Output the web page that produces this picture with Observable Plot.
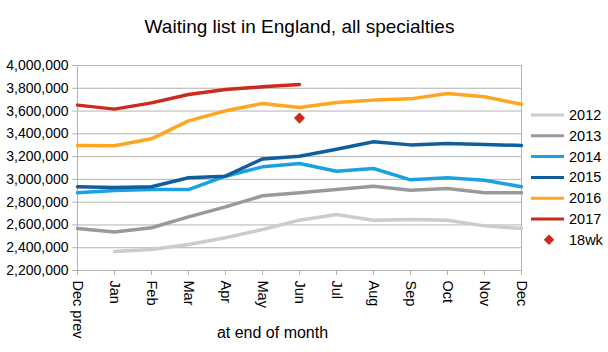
<!DOCTYPE html>
<html><head><meta charset="utf-8">
<script src="https://cdn.jsdelivr.net/npm/d3@7"></script>
<script src="https://cdn.jsdelivr.net/npm/@observablehq/plot@0.6"></script>
<style>body{margin:0;background:#fff} svg{display:block}</style>
</head><body><div id="chart"></div><script>
const title = "Waiting list in England, all specialties";
const xLabel = "at end of month";
const months = ["Dec prev","Jan","Feb","Mar","Apr","May","Jun","Jul","Aug","Sep","Oct","Nov","Dec"];
const yTicks = [2200000,2400000,2600000,2800000,3000000,3200000,3400000,3600000,3800000,4000000];
const seriesNames = ["2012","2013","2014","2015","2016","2017"];
const seriesColors = ["#cccccc","#999999","#1ba1e2","#0f5f9e","#ffa51f","#cc2a1c"];
const y2012 = [null,2367000,2384000,2428000,2487000,2560000,2642000,2692000,2642000,2648000,2642000,2592000,2569000];
const y2013 = [2569000,2539000,2575000,2671000,2759000,2856000,2882000,2911000,2940000,2905000,2920000,2882000,2882000];
const y2014 = [2882000,2902000,2911000,2911000,3028000,3110000,3140000,3072000,3096000,2996000,3014000,2993000,2935000];
const y2015 = [2935000,2929000,2935000,3014000,3028000,3180000,3204000,3265000,3330000,3303000,3315000,3306000,3298000];
const y2016 = [3298000,3295000,3356000,3514000,3602000,3666000,3631000,3675000,3696000,3707000,3754000,3725000,3660000];
const y2017 = [3652000,3617000,3672000,3745000,3789000,3813000,3833000];
const wk18Name = "18wk";
const wk18Color = "#cc2a1c";
const wk18Month = ["Jun"];
const wk18Value = [3538000];

const seriesValues = [y2012,y2013,y2014,y2015,y2016,y2017];
const lineData = [];
seriesValues.forEach((vals, i) => {
  vals.forEach((v, j) => { if (v != null) lineData.push({month: months[j], value: v, series: seriesNames[i]}); });
});
const wkData = wk18Month.map((m, i) => ({month: m, value: wk18Value[i]}));

const font = "'Liberation Sans', Arial, Helvetica, sans-serif";
const chart = Plot.plot({
  width: 608, height: 352,
  marginTop: 65, marginBottom: 82, marginLeft: 77, marginRight: 87,
  style: {fontFamily: font, fontSize: "14px", color: "#000", background: "#fff"},
  x: {type: "point", domain: months, padding: 0},
  y: {domain: [2200000, 4000000]},
  color: {domain: seriesNames, range: seriesColors},
  marks: [
    Plot.gridY(yTicks, {stroke: "#b3b3b3", strokeOpacity: 1}),
    Plot.frame({stroke: "#b3b3b3"}),
    Plot.axisY(yTicks, {tickFormat: d3.format(","), tickSize: 5, tickPadding: 4, stroke: "#b3b3b3", fill: "#000", label: null, fontSize: 14}),
    Plot.axisX(months, {tickRotate: 90, tickSize: 5, tickPadding: 5, stroke: "#b3b3b3", fill: "#000", label: null, fontSize: 14.5}),
    Plot.line(lineData, {x: "month", y: "value", z: "series", stroke: "series", strokeWidth: 3.5}),
    Plot.dot(wkData, {x: "month", y: "value", symbol: "diamond2", r: 5, fill: wk18Color, stroke: null}),
    Plot.text([title], {frameAnchor: "top", dy: -46, fontSize: 19, fill: "#000"}),
    Plot.text([xLabel], {frameAnchor: "bottom", dx: -27, dy: 67, fontSize: 16, fill: "#000"})
  ]
});
document.getElementById("chart").appendChild(chart);

// legend
const lg = d3.select(chart).append("g").attr("font-family", font).attr("font-size", 14.5).attr("text-anchor", "start");
const legendItems = seriesNames.map((n, i) => ({name: n, color: seriesColors[i], type: "line"}))
  .concat([{name: wk18Name, color: wk18Color, type: "diamond"}]);
legendItems.forEach((it, i) => {
  const y = 115 + i * 20.8;
  if (it.type === "line") {
    lg.append("line").attr("x1", 531).attr("x2", 564).attr("y1", y).attr("y2", y)
      .attr("stroke", it.color).attr("stroke-width", 3);
  } else {
    lg.append("path").attr("d", d3.symbol(d3.symbolDiamond2, 70)()).attr("transform", `translate(549,${y})`)
      .attr("fill", it.color);
  }
  lg.append("text").attr("x", 569).attr("y", y).attr("dy", "0.35em").attr("fill", "#000").attr("text-anchor", "start").text(it.name);
});
</script></body></html>
